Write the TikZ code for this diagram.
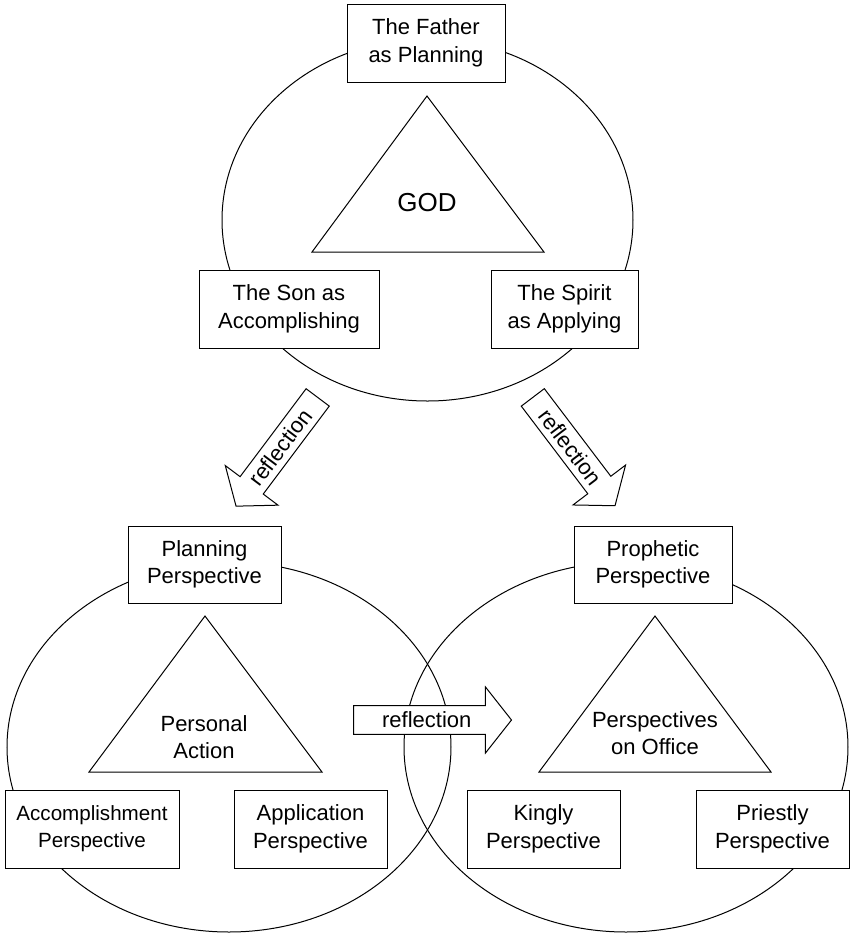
\documentclass[tikz,border=0pt]{standalone}
\usepackage{fontspec}
\setmainfont{Liberation Sans}
\usetikzlibrary{shapes.arrows}

\begin{document}
\begin{tikzpicture}[x=0.5pt,y=-0.5pt,line width=0.5pt,
  box/.style={draw,fill=white,align=center,inner sep=0pt,minimum height=39pt,font=\fontsize{11}{13.8}\selectfont},
  refl/.style={draw,fill=white,single arrow,single arrow head extend=5.5pt,single arrow tip angle=103.5,
    minimum width=33pt,minimum height=68pt,inner sep=0pt,font=\fontsize{11}{13.8}\selectfont}]
\useasboundingbox (0,0) rectangle (850,934);
	%\draw[help lines] (0,0) grid (850,934);
% God
\draw (427.5,220) ellipse [x radius=102.75pt, y radius=90.5pt];
\draw (427,96) -- (312,252) -- (544,252) -- cycle;
\node (god) at (427,203) {\fontsize{13}{15}\selectfont GOD};
\node[box,minimum width=79pt] (father) at (426,43) {The Father\\as Planning};
\node[box,minimum width=90pt] (son) at (289,309) {The Son as\\Accomplishing};
\node[box,minimum width=73.5pt] (spirit) at (564.5,309) {The Spirit\\as Applying};
% man
\draw (229,747) ellipse [x radius=111pt, y radius=92.5pt];
\draw (626,747) ellipse [x radius=111pt, y radius=92.5pt];
\draw (205,616) -- (89,772) -- (322,772) -- cycle;
\draw (655,616) -- (539,772) -- (771,772) -- cycle;
\node[align=center,font=\fontsize{11}{13.4}\selectfont] (action) at (204,737) {Personal\\Action};
\node[align=center,font=\fontsize{11}{13.4}\selectfont] (office) at (655,733) {Perspectives\\on Office};
\node[box,minimum width=76.5pt,minimum height=38.5pt] (planning) at (204.5,564.5) {Planning\\Perspective};
\node[box,minimum width=79pt,minimum height=38.5pt] (prophetic) at (653,564.5) {Prophetic\\Perspective};
\node[box,minimum width=87pt,font=\fontsize{10.3}{13.4}\selectfont] (accomp) at (92,829) {Accomplishment\\Perspective};
\node[box,minimum width=76.5pt] (applic) at (310.5,829) {Application\\Perspective};
\node[box,minimum width=76.5pt] (kingly) at (543.5,829) {Kingly\\Perspective};
\node[box,minimum width=76.5pt] (priestly) at (772.5,829) {Priestly\\Perspective};
% reflections
\node[refl,anchor=tail,shape border rotate=180,rotate=53.1] (reflA) at (318,397) {reflection};
\node[refl,anchor=tail,rotate=-52.8] (reflB) at (532.5,397) {reflection};
\node[refl,anchor=tail,minimum height=79pt] (reflC) at (353,720) {reflection};
\end{tikzpicture}
\end{document}
